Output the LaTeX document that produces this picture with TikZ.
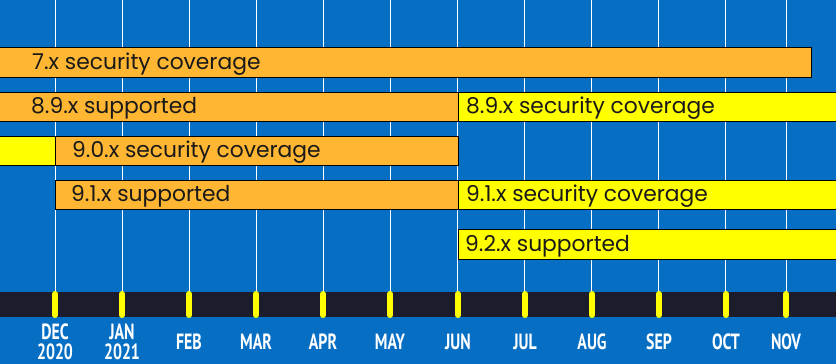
\documentclass[tikz,border=0pt]{standalone}
\usepackage{fontspec}
\setmainfont{Poppins}
\newfontfamily\monthfont{PT Sans}[FakeStretch=0.72]
\definecolor{bgblue}{RGB}{6,111,196}
\definecolor{barorange}{RGB}{255,182,50}
\definecolor{baryellow}{RGB}{255,255,0}
\definecolor{bandgray}{RGB}{28,28,44}

\begin{document}
\begin{tikzpicture}[x=1pt, y=-1pt,
    orangebar/.style = {draw=black, line width=1pt, fill=barorange},
    yellowbar/.style = {draw=black, line width=1pt, fill=baryellow},
    barlabel/.style = {anchor=base west, inner sep=0pt, text=black!90,
        font=\fontsize{21.8}{22}\selectfont},
    monthlabel/.style = {align=center, text=white, inner sep=0pt,
        font=\monthfont\bfseries\fontsize{22}{19.5}\selectfont}]
    \fill[bgblue] (0,0) rectangle (836,364);
    \useasboundingbox (0,0) rectangle (836,364);
    \clip (0,0) rectangle (836,364);

    % month grid
    \foreach \x in {55,122,...,725,786}
        \draw[white, line width=0.8pt] (\x,0) -- (\x,292);

    % release bars
    \draw[orangebar] (-2,47) rectangle (811,77);
    \node[barlabel] (sec7) at (32,69.5) {7.x security coverage};

    \draw[orangebar] (-2,92) rectangle (458,121);
    \node[barlabel] (sup89) at (31,113.5) {8.9.x supported};
    \draw[yellowbar] (458,92) rectangle (840,121);
    \node[barlabel] (sec89) at (466,113.5) {8.9.x security coverage};

    \draw[yellowbar] (-2,136) rectangle (55,165);
    \draw[orangebar] (55,136) rectangle (458,165);
    \node[barlabel] (sec90) at (72,157.5) {9.0.x security coverage};

    \draw[orangebar] (55,180) rectangle (458,209);
    \node[barlabel] (sup91) at (71,201.5) {9.1.x supported};
    \draw[yellowbar] (458,180) rectangle (840,209);
    \node[barlabel] (sec91) at (466,201.5) {9.1.x security coverage};

    \draw[yellowbar] (458,229) rectangle (840,259);
    \node[barlabel] (sup92) at (465,251.5) {9.2.x supported};

    % timeline
    \fill[bandgray] (0,292) rectangle (836,317);
    \foreach \x/\m [count=\i] in {55/{DEC\\2020}, 122/{JAN\\2021}, 189/FEB,
        256/MAR, 323/APR, 390/MAY, 458/JUN, 525/JUL, 592/AUG, 659/SEP,
        726/OCT, 786/NOV}
    {
        \draw[baryellow, line width=6pt, line cap=round] (\x,294) -- (\x,315);
        \node[monthlabel] (m\i) at (\x,342) {\m};
    }
\end{tikzpicture}
\end{document}
